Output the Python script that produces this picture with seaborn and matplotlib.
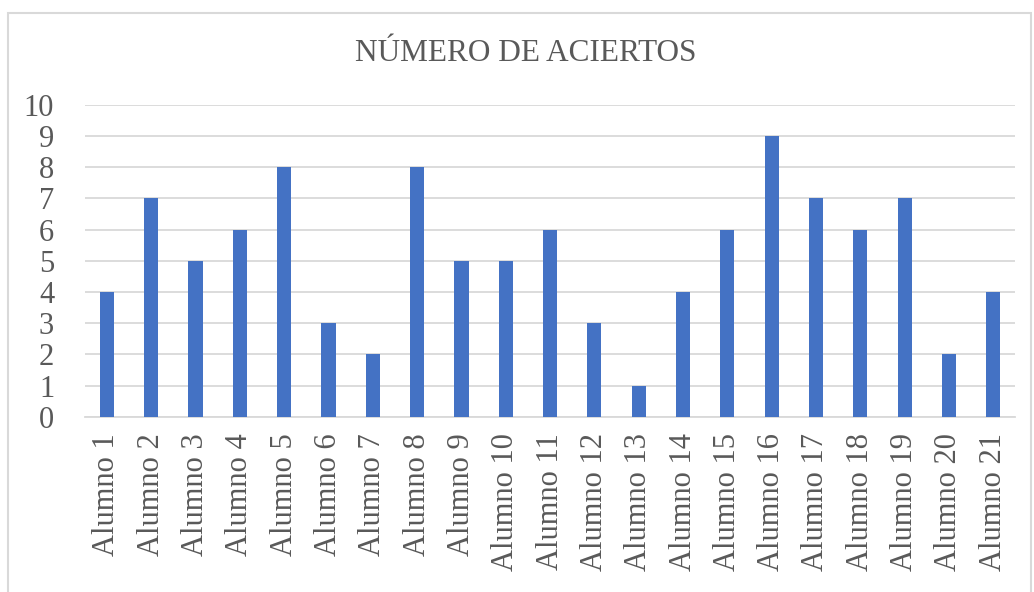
import matplotlib
matplotlib.use("Agg")
import matplotlib.pyplot as plt
import seaborn as sns
import pandas as pd
from matplotlib.patches import Rectangle

# data
alumnos = [f"Alumno {i}" for i in range(1, 22)]
aciertos = [4, 7, 5, 6, 8, 3, 2, 8, 5, 5, 6, 3, 1, 4, 6, 9, 7, 6, 7, 2, 4]
y_ticks = list(range(0, 11))

df = pd.DataFrame({"alumno": alumnos, "aciertos": aciertos})

sns.set_style("white")
plt.rcParams['font.family'] = ['Liberation Serif', 'DejaVu Serif']

fig = plt.figure(figsize=(10.34, 5.92), dpi=100)
ax = fig.add_axes([0.082, 0.296, 0.900, 0.527])

sns.barplot(data=df, x="alumno", y="aciertos", color="#4472C4",
            width=0.32, saturation=1, linewidth=0, ax=ax, zorder=3)

ax.set_ylim(0, 10)
ax.set_yticks(y_ticks)
ax.set_xlim(-0.5, len(alumnos) - 0.5)
ax.yaxis.grid(True, color="#d9d9d9", linewidth=1.3, zorder=0)
ax.set_axisbelow(True)
for s in ["top", "right", "left"]:
    ax.spines[s].set_visible(False)
ax.spines["bottom"].set_color("#d9d9d9")
ax.spines["bottom"].set_linewidth(1.3)
ax.tick_params(axis="both", length=0, labelsize=22, labelcolor="#595959")
ax.tick_params(axis="x", rotation=90, pad=12)
ax.tick_params(axis="y", pad=22)
ax.set_xlabel("")
ax.set_ylabel("")

fig.text(0.508, 0.910, "NÚMERO DE ACIERTOS", ha="center", va="center",
         fontsize=22.5, color="#595959")

# chart border
fig.patches.append(Rectangle((0.008, -0.1), 0.989, 1.078, transform=fig.transFigure,
                             fill=False, edgecolor="#d9d9d9", linewidth=1.5))

fig.savefig("out.png", dpi=100)
